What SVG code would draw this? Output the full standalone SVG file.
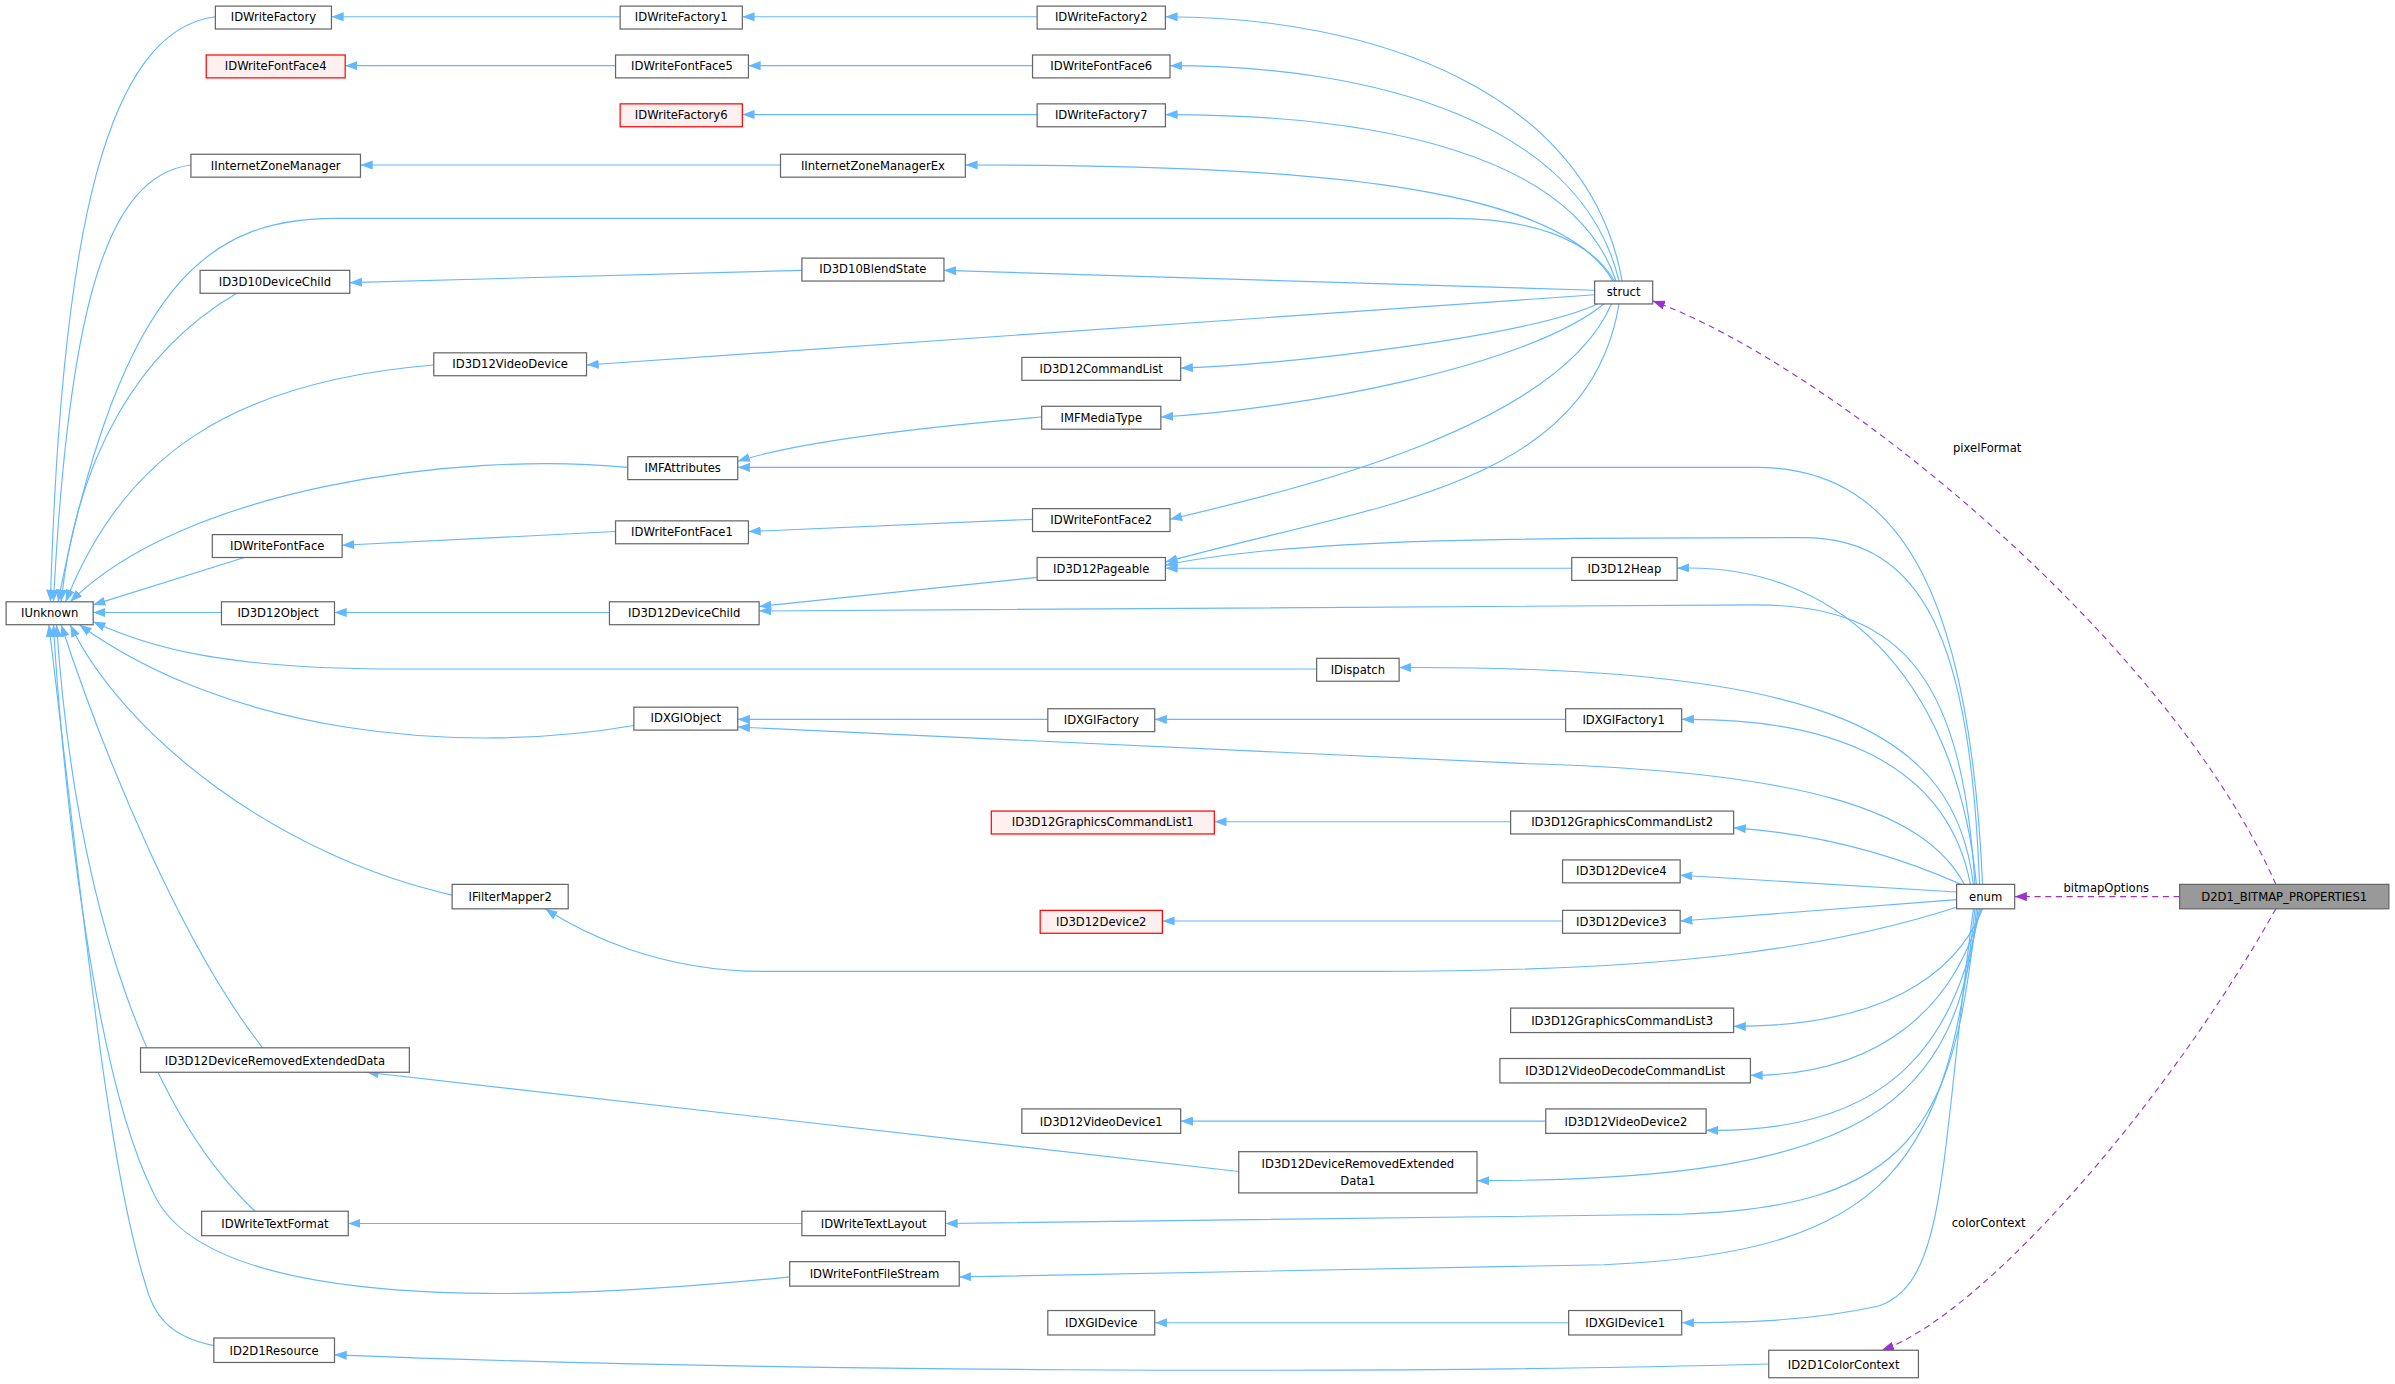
<svg xmlns="http://www.w3.org/2000/svg" width="2395" height="1384" viewBox="0 0 2395 1384">
<style>
.n rect{fill:#fff;stroke:#666;stroke-width:0.8}
.r rect{fill:#fff0f0;stroke:#f00;stroke-width:0.8}
.g rect{fill:#999;stroke:#666;stroke-width:0.8}
text{font-family:"DejaVu Sans",sans-serif;font-size:7.6px;fill:#000;text-anchor:middle}
.e path{fill:none;stroke:#63b8ff;stroke-width:0.75;marker-end:url(#a)}
.d path{fill:none;stroke:#9a32cd;stroke-width:0.75;stroke-dasharray:4,3;marker-end:url(#p)}
</style>
<defs>
<marker id="a" markerUnits="userSpaceOnUse" markerWidth="8" markerHeight="6" refX="8" refY="3" orient="auto"><path d="M0,0 L8,3 L0,6z" fill="#63b8ff"/></marker>
<marker id="p" markerUnits="userSpaceOnUse" markerWidth="8" markerHeight="6" refX="8" refY="3" orient="auto"><path d="M0,0 L8,3 L0,6z" fill="#9a32cd"/></marker>
</defs>
<rect width="2395" height="1384" fill="#fff"/>
<g transform="scale(1.52742)">
<g id="edges">
<g class="e">
<path d="M141,11 C70,20 40,150 33,394"/>
<path d="M125,108 C70,115 45,200 35,394"/>
<path d="M1057,184 C1040,155 1000,143 950,143 L220,143 C140,143 80,180 38,394"/>
<path d="M155,192 C90,230 50,300 40,394"/>
<path d="M284,239 C150,250 80,300 43,394"/>
<path d="M411,306 C300,295 120,320 46,394"/>
<path d="M160,365 L61,396"/>
<path d="M145,401 L61,401"/>
<path d="M862,438 L260,438 C150,438 100,425 61,407"/>
<path d="M415,475 C300,495 150,480 52,409"/>
<path d="M296,586 C180,560 80,480 46,409"/>
<path d="M172,686 C120,620 70,500 40,409"/>
<path d="M167,793 C100,730 50,600 37,409"/>
<path d="M517,836 C300,858 130,850 100,780 C60,700 40,500 35,409"/>
<path d="M140,881 C110,875 100,860 95,840 C70,760 55,600 32,409"/>
<path d="M406,11 L217,11"/>
<path d="M679,11 L486,11"/>
<path d="M403,43 L226,43"/>
<path d="M676,43 L490,43"/>
<path d="M679,75 L486,75"/>
<path d="M511,108 L236,108"/>
<path d="M525,177 L229,185"/>
<path d="M1062,184 C1040,60 900,11 763,11"/>
<path d="M1060,184 C1035,80 900,43 766,43"/>
<path d="M1058,184 C1030,100 900,75 763,75"/>
<path d="M1056,184 C1020,120 850,108 632,108"/>
<path d="M1044,190 L618,177"/>
<path d="M1044,193 L384,239"/>
<path d="M1046,199 C1000,220 850,238 773,241"/>
<path d="M1050,199 C1000,240 850,268 760,273"/>
<path d="M1055,199 C1020,280 850,320 766,340"/>
<path d="M1060,199 C1040,320 900,330 763,368"/>
<path d="M682,273 C600,280 520,290 483,302"/>
<path d="M403,348 L224,357"/>
<path d="M676,340 L490,348"/>
<path d="M1029,372 L763,372"/>
<path d="M679,378 L497,397"/>
<path d="M399,401 L219,401"/>
<path d="M686,471 L483,471"/>
<path d="M1025,471 L756,471"/>
<path d="M989,538 L795,538"/>
<path d="M1023,603 L761,603"/>
<path d="M1012,734 L773,734"/>
<path d="M811,767 L240,702"/>
<path d="M525,801 L228,801"/>
<path d="M1027,866 L756,866"/>
<path d="M1158,893 C900,900 500,898 219,887"/>
<path d="M1298,579 C1290,400 1250,306 1150,306 L483,306"/>
<path d="M1296,579 C1290,420 1260,352 1180,352 C1000,352 850,352 763,370"/>
<path d="M1294,579 C1280,440 1200,368 1098,372"/>
<path d="M1293,579 C1285,450 1250,396 1150,396 L497,400"/>
<path d="M1292,579 C1280,480 1200,436 916,437"/>
<path d="M1290,579 C1275,500 1200,470 1101,471"/>
<path d="M1286,579 C1260,530 1180,505 1000,500 L483,476"/>
<path d="M1284,579 C1230,555 1180,545 1135,542"/>
<path d="M1281,584 L1100,573"/>
<path d="M1281,589 L1100,603"/>
<path d="M1281,594 C1200,620 1100,636 900,636 L500,636 C430,636 380,610 357,595"/>
<path d="M1298,595 C1280,640 1230,672 1135,672"/>
<path d="M1297,595 C1280,660 1230,704 1146,704"/>
<path d="M1296,595 C1280,690 1230,742 1117,740"/>
<path d="M1295,595 C1280,720 1230,773 967,773"/>
<path d="M1294,595 C1280,740 1250,790 1100,795 L619,801"/>
<path d="M1293,595 C1275,760 1240,820 1050,828 L628,836"/>
<path d="M1292,595 C1270,760 1275,840 1230,855 C1180,866 1130,866 1101,866"/>
</g>
<g class="d">
<path d="M1490,579 C1420,420 1200,240 1082,197"/>
<path d="M1427,587 L1319,587"/>
<path d="M1490,595 C1420,720 1300,860 1232,884"/>
</g>
<text x="1301" y="296">pixelFormat</text>
<text x="1379" y="584">bitmapOptions</text>
<text x="1302" y="803">colorContext</text>
</g>
<g id="IDWriteFactory" class="n"><rect x="141" y="4" width="76" height="15"/><text x="179" y="14">IDWriteFactory</text></g>
<g id="IDWriteFactory1" class="n"><rect x="406" y="4" width="80" height="15"/><text x="446" y="14">IDWriteFactory1</text></g>
<g id="IDWriteFactory2" class="n"><rect x="679" y="4" width="84" height="15"/><text x="721" y="14">IDWriteFactory2</text></g>
<g id="IDWriteFontFace4" class="r"><rect x="135" y="36" width="91" height="15"/><text x="180.5" y="46">IDWriteFontFace4</text></g>
<g id="IDWriteFontFace5" class="n"><rect x="403" y="36" width="87" height="15"/><text x="446.5" y="46">IDWriteFontFace5</text></g>
<g id="IDWriteFontFace6" class="n"><rect x="676" y="36" width="90" height="15"/><text x="721" y="46">IDWriteFontFace6</text></g>
<g id="IDWriteFactory6" class="r"><rect x="406" y="68" width="80" height="15"/><text x="446" y="78">IDWriteFactory6</text></g>
<g id="IDWriteFactory7" class="n"><rect x="679" y="68" width="84" height="15"/><text x="721" y="78">IDWriteFactory7</text></g>
<g id="IInternetZoneManager" class="n"><rect x="125" y="101" width="111" height="15"/><text x="180.5" y="111">IInternetZoneManager</text></g>
<g id="IInternetZoneManagerEx" class="n"><rect x="511" y="101" width="121" height="15"/><text x="571.5" y="111">IInternetZoneManagerEx</text></g>
<g id="ID3D10DeviceChild" class="n"><rect x="131" y="177" width="98" height="15"/><text x="180" y="187">ID3D10DeviceChild</text></g>
<g id="ID3D10BlendState" class="n"><rect x="525" y="169" width="93" height="15"/><text x="571.5" y="179">ID3D10BlendState</text></g>
<g id="struct" class="n"><rect x="1044" y="184" width="38" height="15"/><text x="1063" y="194">struct</text></g>
<g id="ID3D12VideoDevice" class="n"><rect x="284" y="231" width="100" height="15"/><text x="334" y="241">ID3D12VideoDevice</text></g>
<g id="ID3D12CommandList" class="n"><rect x="669" y="234" width="104" height="15"/><text x="721" y="244">ID3D12CommandList</text></g>
<g id="IMFMediaType" class="n"><rect x="682" y="266" width="78" height="15"/><text x="721" y="276">IMFMediaType</text></g>
<g id="IMFAttributes" class="n"><rect x="411" y="299" width="72" height="15"/><text x="447" y="309">IMFAttributes</text></g>
<g id="IDWriteFontFace" class="n"><rect x="139" y="350" width="85" height="15"/><text x="181.5" y="360">IDWriteFontFace</text></g>
<g id="IDWriteFontFace1" class="n"><rect x="403" y="341" width="87" height="15"/><text x="446.5" y="351">IDWriteFontFace1</text></g>
<g id="IDWriteFontFace2" class="n"><rect x="676" y="333" width="90" height="15"/><text x="721" y="343">IDWriteFontFace2</text></g>
<g id="ID3D12Pageable" class="n"><rect x="679" y="365" width="84" height="15"/><text x="721" y="375">ID3D12Pageable</text></g>
<g id="ID3D12Heap" class="n"><rect x="1029" y="365" width="69" height="15"/><text x="1063.5" y="375">ID3D12Heap</text></g>
<g id="IUnknown" class="n"><rect x="4" y="394" width="57" height="15"/><text x="32.5" y="404">IUnknown</text></g>
<g id="ID3D12Object" class="n"><rect x="145" y="394" width="74" height="15"/><text x="182" y="404">ID3D12Object</text></g>
<g id="ID3D12DeviceChild" class="n"><rect x="399" y="394" width="98" height="15"/><text x="448" y="404">ID3D12DeviceChild</text></g>
<g id="IDispatch" class="n"><rect x="862" y="431" width="54" height="15"/><text x="889" y="441">IDispatch</text></g>
<g id="IDXGIObject" class="n"><rect x="415" y="463" width="68" height="15"/><text x="449" y="473">IDXGIObject</text></g>
<g id="IDXGIFactory" class="n"><rect x="686" y="464" width="70" height="15"/><text x="721" y="474">IDXGIFactory</text></g>
<g id="IDXGIFactory1" class="n"><rect x="1025" y="464" width="76" height="15"/><text x="1063" y="474">IDXGIFactory1</text></g>
<g id="ID3D12GraphicsCommandList1" class="r"><rect x="649" y="531" width="146" height="15"/><text x="722" y="541">ID3D12GraphicsCommandList1</text></g>
<g id="ID3D12GraphicsCommandList2" class="n"><rect x="989" y="531" width="146" height="15"/><text x="1062" y="541">ID3D12GraphicsCommandList2</text></g>
<g id="ID3D12Device4" class="n"><rect x="1023" y="563" width="77" height="15"/><text x="1061.5" y="573">ID3D12Device4</text></g>
<g id="enum" class="n"><rect x="1281" y="579" width="38" height="16"/><text x="1300" y="590">enum</text></g>
<g id="D2D1_BITMAP_PROPERTIES1" class="g"><rect x="1427" y="579" width="137" height="16"/><text x="1495.5" y="590">D2D1_BITMAP_PROPERTIES1</text></g>
<g id="IFilterMapper2" class="n"><rect x="296" y="579" width="76" height="16"/><text x="334" y="590">IFilterMapper2</text></g>
<g id="ID3D12Device2" class="r"><rect x="681" y="596" width="80" height="15"/><text x="721" y="606">ID3D12Device2</text></g>
<g id="ID3D12Device3" class="n"><rect x="1023" y="596" width="77" height="15"/><text x="1061.5" y="606">ID3D12Device3</text></g>
<g id="ID3D12GraphicsCommandList3" class="n"><rect x="989" y="660" width="146" height="16"/><text x="1062" y="671">ID3D12GraphicsCommandList3</text></g>
<g id="ID3D12DeviceRemovedExtendedData" class="n"><rect x="92" y="686" width="176" height="16"/><text x="180" y="697">ID3D12DeviceRemovedExtendedData</text></g>
<g id="ID3D12VideoDecodeCommandList" class="n"><rect x="982" y="693" width="164" height="16"/><text x="1064" y="704">ID3D12VideoDecodeCommandList</text></g>
<g id="ID3D12VideoDevice1" class="n"><rect x="669" y="726" width="104" height="16"/><text x="721" y="737">ID3D12VideoDevice1</text></g>
<g id="ID3D12VideoDevice2" class="n"><rect x="1012" y="726" width="105" height="16"/><text x="1064.5" y="737">ID3D12VideoDevice2</text></g>
<g id="ID3D12DeviceRemovedExtendedData1" class="n"><rect x="811" y="754" width="156" height="27"/><text x="889" y="765">ID3D12DeviceRemovedExtended</text><text x="889" y="776">Data1</text></g>
<g id="IDWriteTextFormat" class="n"><rect x="132" y="793" width="96" height="16"/><text x="180" y="804">IDWriteTextFormat</text></g>
<g id="IDWriteTextLayout" class="n"><rect x="525" y="793" width="94" height="16"/><text x="572" y="804">IDWriteTextLayout</text></g>
<g id="IDWriteFontFileStream" class="n"><rect x="517" y="826" width="111" height="16"/><text x="572.5" y="837">IDWriteFontFileStream</text></g>
<g id="IDXGIDevice" class="n"><rect x="686" y="858" width="70" height="16"/><text x="721" y="869">IDXGIDevice</text></g>
<g id="IDXGIDevice1" class="n"><rect x="1027" y="858" width="74" height="16"/><text x="1064" y="869">IDXGIDevice1</text></g>
<g id="ID2D1Resource" class="n"><rect x="140" y="876" width="79" height="16"/><text x="179.5" y="887">ID2D1Resource</text></g>
<g id="ID2D1ColorContext" class="n"><rect x="1158" y="884" width="98" height="18"/><text x="1207" y="896">ID2D1ColorContext</text></g>
</g>
</svg>
